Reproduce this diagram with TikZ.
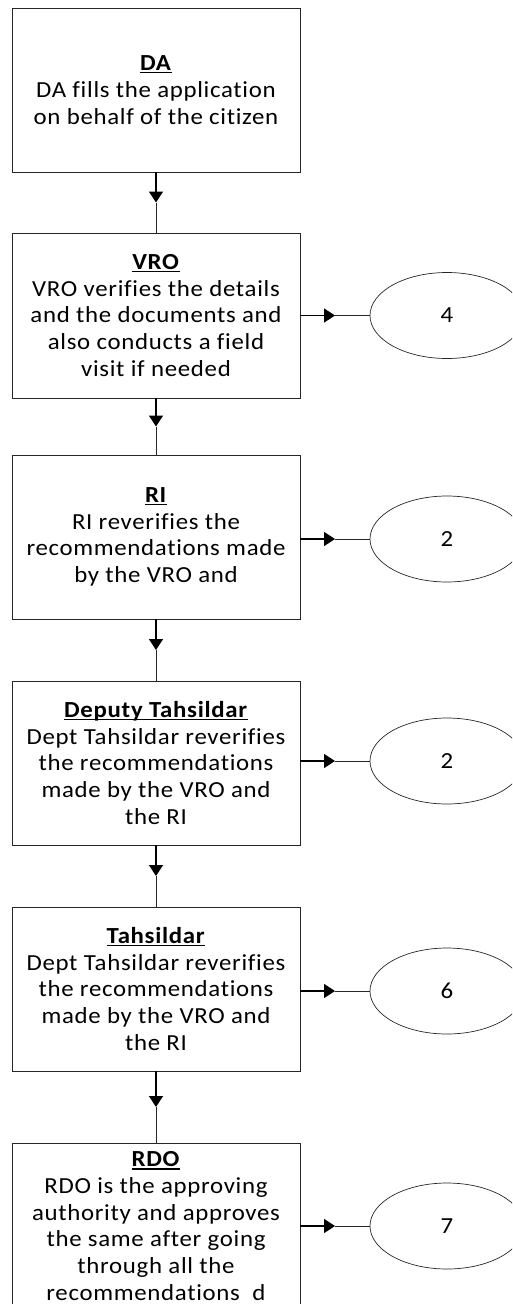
\documentclass[tikz,border=0pt]{standalone}
\usepackage{fontspec}
\setmainfont{Carlito}[FakeStretch=1.08, LetterSpace=3, Ligatures=NoCommon]
\usetikzlibrary{arrows.meta,calc,shapes.geometric}

\newsavebox{\titlebox}
\newcommand{\boxtitle}[1]{\sbox{\titlebox}{\textbf{#1}}\rlap{\usebox{\titlebox}}\rule[-2.8pt]{\wd\titlebox}{1.3pt}}

\tikzset{
  stage/.style={draw=black!85, line width=0.8pt, minimum width=288pt, minimum height=164pt,
    inner sep=0pt, align=center, font=\fontsize{23}{26.7}\selectfont},
  tally/.style={draw=black!85, ellipse, line width=0.7pt, minimum width=154pt, minimum height=86pt,
    inner sep=0pt, font=\fontsize{23}{26.7}\selectfont},
  head/.style={-{Triangle[width=14pt,length=11pt]}, line width=1.3pt},
  tail/.style={draw=black!85, line width=0.7pt}
}

\begin{document}
\begin{tikzpicture}[x=1pt,y=-1pt]
        \useasboundingbox (0,0) rectangle (512,1304);
        \clip (0,0) rectangle (512,1304);
        \node[stage] (da) at (156,90) {\boxtitle{DA}\\DA fills the application\\on behalf of the citizen};
        \node[stage, minimum height=165pt] (vro) at (156,315.5) {\boxtitle{VRO}\\VRO verifies the details\\and the documents and\\also conducts a field\\visit if needed};
        \node[stage] (ri) at (156,537) {\boxtitle{RI}\\RI reverifies the\\recommendations made\\by the VRO and};
        \node[stage] (dept) at (156,763) {\boxtitle{Deputy Tahsildar}\\Dept Tahsildar reverifies\\the recommendations\\made by the VRO and\\the RI};
        \node[stage] (tah) at (156,989) {\boxtitle{Tahsildar}\\Dept Tahsildar reverifies\\the recommendations\\made by the VRO and\\the RI};
        \node[stage, minimum height=166pt] (rdo) at (156,1226) {\boxtitle{RDO}\\RDO is the approving\\authority and approves\\the same after going\\through all the\\recommendations\ \ d};
        \node[tally] (vron) at (447,315.5) {4};
        \node[tally] (rin) at (447,539) {2};
        \node[tally] (deptn) at (447,761) {2};
        \node[tally] (tahn) at (447,991) {6};
        \node[tally] (rdon) at (447,1226) {7};
        % down the column
        \coordinate (d1) at ($(da.south)!0.5!(vro.north)$);
        \coordinate (d2) at ($(vro.south)!0.5!(ri.north)$);
        \coordinate (d3) at ($(ri.south)!0.5!(dept.north)$);
        \coordinate (d4) at ($(dept.south)!0.5!(tah.north)$);
        \coordinate (d5) at ($(tah.south)!0.5!(rdo.north)$);
        \draw[head] (da.south) -- (d1);
        \draw[tail] (d1) -- (vro.north);
        \draw[head] (vro.south) -- (d2);
        \draw[tail] (d2) -- (ri.north);
        \draw[head] (ri.south) -- (d3);
        \draw[tail] (d3) -- (dept.north);
        \draw[head] (dept.south) -- (d4);
        \draw[tail] (d4) -- (tah.north);
        \draw[head] (tah.south) -- (d5);
        \draw[tail] (d5) -- (rdo.north);
        % out to the counts
        \coordinate (h1) at ($(vro.east)!0.5!(vron.west)$);
        \coordinate (h2) at ($(ri.east |- rin.west)!0.5!(rin.west)$);
        \coordinate (h3) at ($(dept.east |- deptn.west)!0.5!(deptn.west)$);
        \coordinate (h4) at ($(tah.east |- tahn.west)!0.5!(tahn.west)$);
        \coordinate (h5) at ($(rdo.east)!0.5!(rdon.west)$);
        \draw[head] (vro.east) -- (h1);
        \draw[tail] (h1) -- (vron.west);
        \draw[head] (ri.east |- rin.west) -- (h2);
        \draw[tail] (h2) -- (rin.west);
        \draw[head] (dept.east |- deptn.west) -- (h3);
        \draw[tail] (h3) -- (deptn.west);
        \draw[head] (tah.east |- tahn.west) -- (h4);
        \draw[tail] (h4) -- (tahn.west);
        \draw[head] (rdo.east) -- (h5);
        \draw[tail] (h5) -- (rdon.west);
\end{tikzpicture}
\end{document}
